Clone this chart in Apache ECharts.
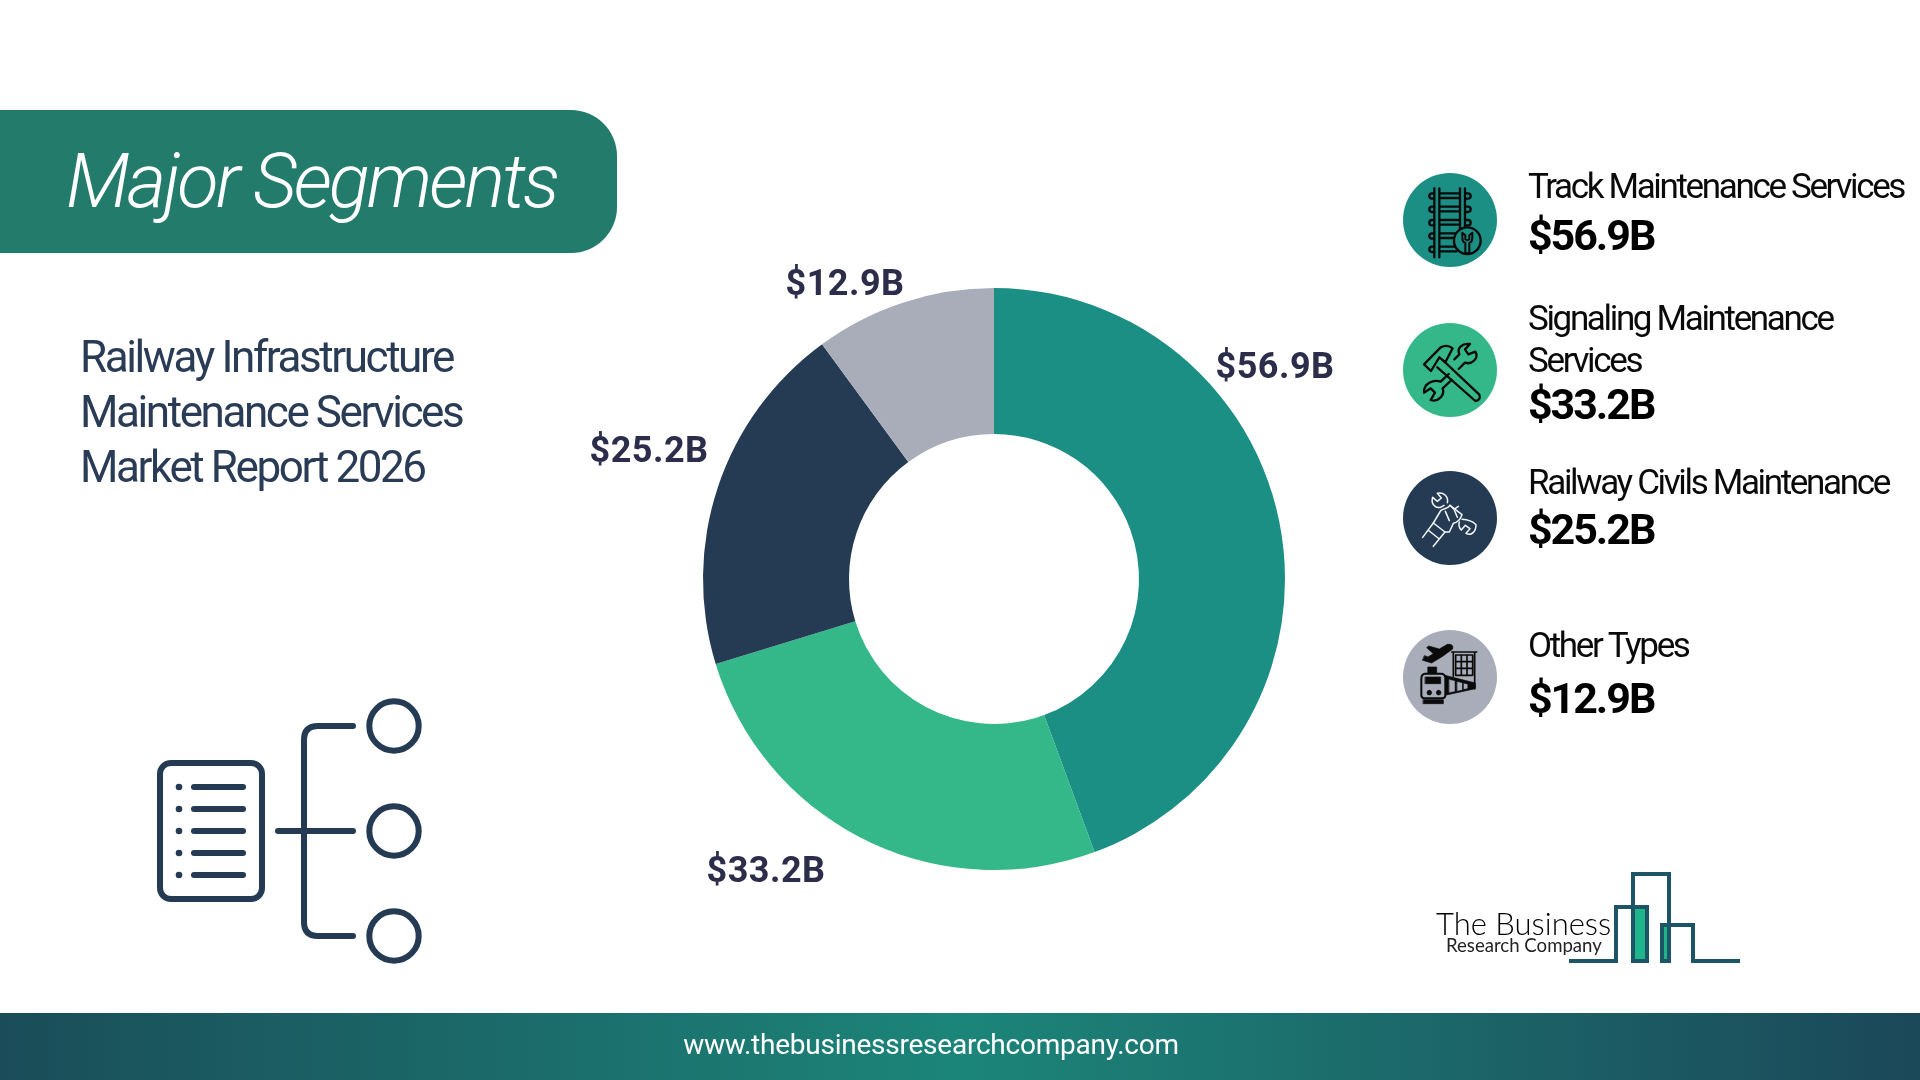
<!DOCTYPE html>
<html><head><meta charset="utf-8">
<style>html,body{margin:0;padding:0;background:#fff}#c{width:1920px;height:1080px}</style>
<script src="https://cdn.jsdelivr.net/npm/echarts@6/dist/echarts.min.js"></script>
</head><body><div id="c"></div>
<script>
const categories = ['Track Maintenance Services','Signaling Maintenance Services','Railway Civils Maintenance','Other Types'];
const legendLines = [['Track Maintenance Services'],['Signaling Maintenance','Services'],['Railway Civils Maintenance'],['Other Types']];
const values = [56.9,33.2,25.2,12.9];
const colors = ['#1b8f84','#34b889','#243b53','#a8adb9'];
const titleLines = ['Railway Infrastructure','Maintenance Services','Market Report 2026'];
const money = v => '$' + v.toFixed(1) + 'B';

const labelPos = [[1275,369],[766,873],[649,453],[845,286]];
const legendY = [[189,239],[321,408,363],[485,533],[648,702]];
const circleY = [220,370,518,677];
const NAVY='#243b53';

// tight tracking of the reference's text, by font size
const tracking = {76:-2.95,44:-2.42,35:-2.35,43:-2.05,36:0.5,28:-0.24};
const nativeFill = CanvasRenderingContext2D.prototype.fillText;
CanvasRenderingContext2D.prototype.fillText = function(t,x,y,m){
  const s = (this.font.match(/([\d.]+)px/)||[])[1];
  this.letterSpacing = (tracking[s]||0)+'px';
  return m===undefined ? nativeFill.call(this,t,x,y) : nativeFill.call(this,t,x,y,m);
};

const g = [];
let pathId = 0;
const txt = (text,x,y,font,fill,align) => g.push({type:'text',x,y,silent:true,style:{text,fill,font,textAlign:align||'left',textVerticalAlign:'middle',verticalAlign:'middle'}});
const path = (d,style,tr={}) => {
  const name='p'+(pathId++);
  echarts.graphic.registerShape(name,echarts.graphic.extendPath(d,{}));
  g.push(Object.assign({type:name,silent:true,style},tr));
};

// banner and footer
g.push({type:'rect',silent:true,shape:{x:0,y:110,width:617,height:143,r:[0,46,46,0]},style:{fill:'#237b6b'}});
g.push({type:'rect',silent:true,shape:{x:0,y:1013,width:1920,height:67},style:{fill:new echarts.graphic.LinearGradient(0,0,1,0,[{offset:0,color:'#1a4d59'},{offset:0.5,color:'#1c8579'},{offset:1,color:'#1b4859'}])}});
txt('Major Segments',66,188,'italic 300 76px Roboto','#ffffff');
titleLines.forEach((t,i)=>txt(t,80,361+55*i,'400 44px Roboto','#293b55'));
txt('www.thebusinessresearchcompany.com',931,1047,'400 28px Roboto','#ffffff','center');

// legend
const lblFont='400 35px Roboto', valFont='700 43px Roboto';
legendLines.forEach((lines,i)=>{
  lines.forEach((t,j)=>txt(t,1528,j===0?legendY[i][0]:legendY[i][2],lblFont,'#0a0a0a'));
  txt(money(values[i]),1528,legendY[i][1],valFont,'#000000');
  g.push({type:'circle',silent:true,shape:{cx:1450,cy:circleY[i],r:47},style:{fill:colors[i]}});
});

// icon coordinates are in a 300-unit box around each circle
const icon = (i,d,style) => path(d,Object.assign({fill:'none',stroke:'#0a0a0a',lineWidth:7,lineCap:'round',lineJoin:'round'},style),{x:1400,y:circleY[i]-50,scaleX:1/3,scaleY:1/3});
// track
icon(0,'M103 55V262M118 55V262M180 55V180M195 55V172M118 70H180M118 84H180M118 110H180M118 124H180M118 150H180M118 164H180M118 190H165M118 204H162M118 230H162M118 244H170M103 70H96A8 8 0 0 0 96 86H103M103 110H96A8 8 0 0 0 96 126H103M103 150H96A8 8 0 0 0 96 166H103M103 190H96A8 8 0 0 0 96 206H103M103 230H96A8 8 0 0 0 96 246H103M195 70H204A8 8 0 0 1 204 86H195M195 110H204A8 8 0 0 1 204 126H195M195 150H204A8 8 0 0 1 204 166H195');
icon(0,'M202 172A40 40 0 1 1 201.9 172Z',{fill:colors[0]});
icon(0,'M187 188V205A15 15 0 0 0 196 219V250H208V219A15 15 0 0 0 217 205V188L208 196V208Q202 213 196 208V196Z',{lineWidth:6});
// hammer and wrench
icon(1,'M72 133L122 82Q142 72 158 85L136 127L118 112L93 153Z');
icon(1,'M128 120L238 224Q244 240 226 243L112 142');
icon(1,'M163 118L178 103C170 85 185 70 210 72L195 88L205 103L226 95C238 115 215 135 195 128L176 147');
icon(1,'M146 162L122 185C100 178 70 190 72 218L92 205L105 218L92 240C115 248 135 225 128 205L155 180');
// hand with wrench
const w={stroke:'#f4f6f8',lineWidth:4.5};
icon(2,'M68 208L100 165L135 192L100 235M84 186L118 213',w);
icon(2,'M100 165L118 135L122 128C132 120 142 124 150 112L186 140C180 156 170 164 160 166L148 192L135 192',w);
icon(2,'M150 112L162 124L175 115M162 124L172 148M136 130L148 158',w);
icon(2,'M132 112L122 118C104 122 92 106 98 88L112 100L124 90L112 76C132 72 146 86 142 104',w);
icon(2,'M186 154C205 155 218 160 228 170C228 190 215 205 198 196L210 182L196 172L184 186C176 178 176 168 178 162',w);
// plane, building and train
const blk={fill:'#0a0a0a',stroke:'#0a0a0a',lineWidth:2};
icon(3,'M68 100L95 108L128 88L158 66Q162 50 142 52L118 66L86 57L80 62L100 80L84 90L74 86Z',blk);
icon(3,'M155 75H230M160 75V148M224 75V185M167 84H218V145H167ZM167 104H218M167 124H218M184 84V145M201 84V145',{lineWidth:5});
icon(3,'M135 145L226 168V185L135 205Z',blk);
icon(3,'M148 158L164 162V193L148 196ZM172 165L186 168V188L172 191ZM192 170L202 172V184L192 186Z',{fill:colors[3],stroke:colors[3],lineWidth:1});
icon(3,'M74 140H126Q136 142 136 155V205Q136 214 126 214H74Q64 214 64 205V155Q64 142 74 140Z',{fill:colors[3],lineWidth:6});
icon(3,'M76 150H122V170H76ZM84 120H110V140H84ZM70 218H130V230H70Z',blk);
icon(3,'M88 190A7 7 0 1 1 87.9 190ZM116 190A7 7 0 1 1 115.9 190Z',blk);

// list and branch pictogram
const st={fill:'none',stroke:NAVY,lineWidth:6,lineCap:'round',lineJoin:'round'};
g.push({type:'rect',silent:true,shape:{x:160,y:763,width:102,height:136,r:11},style:st});
[787,809,831,853,875].forEach(y=>{
  g.push({type:'circle',silent:true,shape:{cx:179,cy:y,r:3.3},style:{fill:NAVY}});
  g.push({type:'line',silent:true,shape:{x1:194,y1:y,x2:243,y2:y},style:st});
});
path('M353 726H318Q304 726 304 740V922Q304 936 318 936H353M278 831H353',st);
[726,831,936].forEach(y=>g.push({type:'circle',silent:true,shape:{cx:394,cy:y,r:24.7},style:st}));

// logo
g.push({type:'rect',silent:true,shape:{x:1633,y:908,width:14,height:53},style:{fill:'#1fb58a'}});
g.push({type:'rect',silent:true,shape:{x:1662,y:927,width:6,height:34},style:{fill:'#1fb58a'}});
path('M1569 961H1616V907H1647V961H1633V874H1669V961H1662V925H1693V961H1740',{fill:'none',stroke:'#1d5566',lineWidth:4,lineJoin:'miter'});
txt('The Business',1436,925,'300 31px Lato','#000000');
txt('Research Company',1446,946,'400 18.6px Lato','#222222');

const chart = echarts.init(document.getElementById('c'),null,{renderer:'canvas',width:1920,height:1080});
chart.setOption({
  animation:false,
  backgroundColor:'#fff',
  graphic:{elements:g},
  series:[{
    type:'pie',
    center:[994,579],
    radius:[145,291],
    startAngle:90,
    clockwise:true,
    silent:true,
    avoidLabelOverlap:false,
    itemStyle:{borderWidth:0},
    color:colors,
    label:{show:true,position:'outside',formatter:p=>money(p.value),fontFamily:'Roboto',fontWeight:700,fontSize:36,color:'#2b2d4a'},
    labelLine:{show:false},
    labelLayout:p=>({x:labelPos[p.dataIndex][0],y:labelPos[p.dataIndex][1],align:'center',verticalAlign:'middle',hideOverlap:false}),
    data:categories.map((name,i)=>({name,value:values[i]}))
  }]
});
</script></body></html>
